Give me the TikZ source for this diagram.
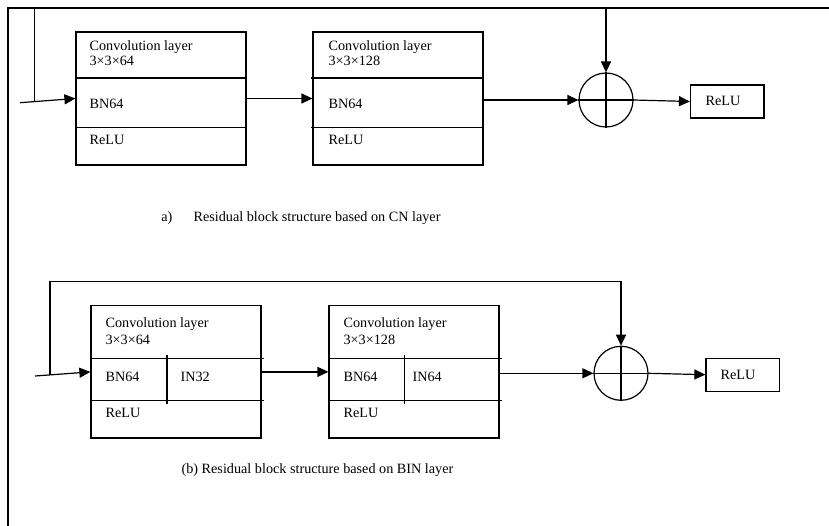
\documentclass[tikz,border=0pt]{standalone}
\usepackage{fontspec}
\setmainfont{Liberation Serif}
\usetikzlibrary{arrows.meta}
\begin{document}
\begin{tikzpicture}[x=1pt,y=-1pt,line width=1.2pt,
  blk/.style={draw,rectangle,inner sep=0pt,minimum width=170pt,minimum height=133pt},
  sumnode/.style={draw,circle,inner sep=0pt,minimum size=54pt},
  relubox/.style={draw,rectangle,inner sep=0pt,minimum width=73.5pt,minimum height=33pt},
  lbl/.style={anchor=base west,inner sep=0pt,font=\fontsize{14.2}{16}\selectfont},
  arr/.style={-{Triangle[length=11pt,width=10pt]}}]
\useasboundingbox (0,0) rectangle (829,526);
% partial frame
\draw (8,526) -- (8,8) -- (829,8);

% ---------- (a) ----------
\node[blk] (b1) at (161,98.5) {};
\node[blk] (b2) at (398,98.5) {};
\node[sumnode] (c1) at (606,100) {};
\node[relubox] (r1) at (727.3,101.5) {};
\draw (c1.north) -- (c1.south);
\draw (c1.west) -- (c1.east);
\draw (b1.west |- 0,78) -- (b1.east |- 0,78);
\draw (b1.west |- 0,127.5) -- (b1.east |- 0,127.5);
\draw (311,78) -- (b2.east |- 0,78);
\draw (311,127.5) -- (b2.east |- 0,127.5);

\node[lbl] (t1a) at (89,50.7) {Convolution layer};
\node[lbl] (t1b) at (89,66) {3×3×64};
\node[lbl] (t1c) at (89,108.5) {BN64};
\node[lbl] (t1d) at (89,145) {ReLU};
\node[lbl] (t2a) at (328,50.7) {Convolution layer};
\node[lbl] (t2b) at (328,66) {3×3×128};
\node[lbl] (t2c) at (328,108.5) {BN64};
\node[lbl] (t2d) at (328,145) {ReLU};
\node[lbl] (t1r) at (705,106) {ReLU};

\coordinate (in1) at (20,102.7);
\coordinate (s1) at (34.7,101.6);
\coordinate (k1) at (606,8);
\draw[arr] (in1) -- (b1.west);
\draw[arr] (s1) |- (k1) -- (c1.north);
\draw[arr] (b1.east) -- (b2.west);
\draw[arr] (b2.east |- c1) -- (c1.west);
\draw[arr] (c1.east) -- (r1.west);

\node[lbl] (ca1) at (160.7,221.5) {a)};
\node[lbl] (ca2) at (193,221.5) {Residual block structure based on CN layer};

% ---------- (b) ----------
\node[blk,minimum height=132.3pt] (b3) at (176,371.9) {};
\node[blk,minimum height=132.3pt] (b4) at (414,371.9) {};
\node[sumnode] (c2) at (621,373.3) {};
\node[relubox] (r2) at (742.7,374.7) {};
\draw (c2.north) -- (c2.south);
\draw (c2.west) -- (c2.east);
\draw (b3.west |- 0,358.3) -- (264,358.3);
\draw (b3.west |- 0,400.7) -- (264,400.7);
\draw (167,355) -- (167,404);
\draw (b4.west |- 0,358.3) -- (501.5,358.3);
\draw (b4.west |- 0,400.7) -- (501.5,400.7);
\draw (404.3,355) -- (404.3,404);

\node[lbl] (t3a) at (105,327) {Convolution layer};
\node[lbl] (t3b) at (105,344) {3×3×64};
\node[lbl] (t3c) at (105,381) {BN64};
\node[lbl] (t3e) at (180,381) {IN32};
\node[lbl] (t3d) at (105,417.7) {ReLU};
\node[lbl] (t4a) at (343,327) {Convolution layer};
\node[lbl] (t4b) at (343,344) {3×3×128};
\node[lbl] (t4c) at (343,381) {BN64};
\node[lbl] (t4e) at (412,381) {IN64};
\node[lbl] (t4d) at (343,417.7) {ReLU};
\node[lbl] (t2r) at (720,379) {ReLU};

\coordinate (in2) at (35,376);
\coordinate (s2) at (50,374.9);
\coordinate (k2) at (621,281.7);
\draw[arr] (in2) -- (b3.west);
\draw[arr] (s2) |- (k2) -- (c2.north);
\draw[arr] (b3.east) -- (b4.west);
\draw[arr] (b4.east |- c2) -- (c2.west);
\draw[arr] (c2.east) -- (r2.west);

\node[lbl] (cb) at (181,473.3) {(b) Residual block structure based on BIN layer};
\end{tikzpicture}
\end{document}
